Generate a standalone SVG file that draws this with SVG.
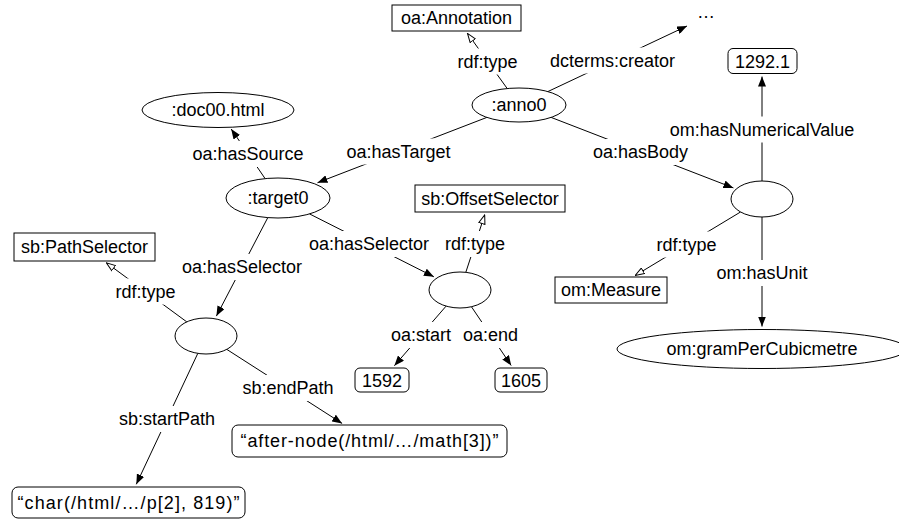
<svg xmlns="http://www.w3.org/2000/svg" width="899" height="521" viewBox="0 0 899 521">
<style>
text{font-family:"Liberation Sans",Arial,sans-serif;font-size:18px;fill:#000;text-anchor:middle}
.n{fill:#fff;stroke:#000;stroke-width:1}
.e{fill:none;stroke:#000;stroke-width:1}
.lb{fill:#fff;stroke:none}
</style>
<defs>
<marker id="arr" viewBox="0 0 10 8" refX="10" refY="4" markerWidth="10" markerHeight="8" orient="auto" markerUnits="userSpaceOnUse"><path d="M0,0 L10,4 L0,8 z" fill="#000"/></marker>
<marker id="open" viewBox="0 0 10 8" refX="9.5" refY="4" markerWidth="10" markerHeight="8" orient="auto" markerUnits="userSpaceOnUse"><path d="M0.5,0.8 L9.5,4 L0.5,7.2 z" fill="#fff" stroke="#000" stroke-width="1"/></marker>
</defs>
<rect width="899" height="521" fill="#fff"/>
<g id="connectors">
<line class="e" x1="507.2" y1="88.5" x2="467.5" y2="33.4" marker-end="url(#open)"/>
<line class="e" x1="547.8" y1="91.6" x2="687" y2="26" marker-end="url(#arr)"/>
<line class="e" x1="486.9" y1="117.4" x2="317.5" y2="182.7" marker-end="url(#arr)"/>
<line class="e" x1="551.1" y1="117.4" x2="733.4" y2="187.9" marker-end="url(#arr)"/>
<line class="e" x1="762" y1="181" x2="762" y2="76.5" marker-end="url(#arr)"/>
<line class="e" x1="762" y1="217" x2="762" y2="326.5" marker-end="url(#arr)"/>
<line class="e" x1="740.5" y1="212" x2="635.2" y2="275.5" marker-end="url(#open)"/>
<line class="e" x1="265.1" y1="178.6" x2="231.2" y2="129" marker-end="url(#arr)"/>
<line class="e" x1="309.5" y1="213.9" x2="433.9" y2="276.8" marker-end="url(#arr)"/>
<line class="e" x1="465.8" y1="272.3" x2="484.7" y2="214.9" marker-end="url(#open)"/>
<line class="e" x1="446.1" y1="306.1" x2="394.4" y2="365.7" marker-end="url(#arr)"/>
<line class="e" x1="471.4" y1="306.7" x2="511.2" y2="365.5" marker-end="url(#arr)"/>
<line class="e" x1="267.8" y1="217.6" x2="216.4" y2="316.1" marker-end="url(#arr)"/>
<line class="e" x1="186.8" y1="321.9" x2="106.4" y2="262.8" marker-end="url(#open)"/>
<line class="e" x1="197.8" y1="353.4" x2="136.3" y2="484.3" marker-end="url(#arr)"/>
<line class="e" x1="226.8" y1="349.4" x2="342.1" y2="423.4" marker-end="url(#arr)"/>
<g id="edge-labels">
<rect class="lb" x="453.5" y="48.5" width="68" height="26"/><text x="487.5" y="67.5">rdf:type</text>
<rect class="lb" x="546" y="47.5" width="133" height="26"/><text x="612.5" y="66.5">dcterms:creator</text>
<rect class="lb" x="342" y="138.5" width="113" height="26"/><text x="398.5" y="157.5">oa:hasTarget</text>
<rect class="lb" x="589" y="139" width="103" height="26"/><text x="640.5" y="158">oa:hasBody</text>
<rect class="lb" x="665" y="116.5" width="194" height="26"/><text x="762" y="135.5">om:hasNumericalValue</text>
<rect class="lb" x="712.5" y="260" width="99" height="26"/><text x="762" y="279">om:hasUnit</text>
<rect class="lb" x="652.5" y="231.5" width="68" height="26"/><text x="686.5" y="250.5">rdf:type</text>
<rect class="lb" x="188.5" y="141" width="119" height="26"/><text x="248" y="160">oa:hasSource</text>
<rect class="lb" x="300.5" y="231" width="137" height="26"/><text x="369" y="250">oa:hasSelector</text>
<rect class="lb" x="441" y="231" width="68" height="26"/><text x="475" y="250">rdf:type</text>
<rect class="lb" x="387" y="322" width="68" height="26"/><text x="421" y="341">oa:start</text>
<rect class="lb" x="459" y="322" width="63" height="26"/><text x="490.5" y="341">oa:end</text>
<rect class="lb" x="173.5" y="254" width="137" height="26"/><text x="242" y="273">oa:hasSelector</text>
<rect class="lb" x="111.5" y="278.5" width="68" height="26"/><text x="145.5" y="297.5">rdf:type</text>
<rect class="lb" x="115" y="406" width="104" height="26"/><text x="167" y="425">sb:startPath</text>
<rect class="lb" x="238.5" y="375" width="99" height="26"/><text x="288" y="394">sb:endPath</text>
</g>
</g>
<g id="n-annotation-class"><rect class="n" x="392" y="5" width="129" height="26"/><text x="456.5" y="24">oa:Annotation</text></g>
<g id="n-creator"><text x="706" y="18">…</text></g>
<g id="n-anno0"><ellipse class="n" cx="519" cy="105" rx="47" ry="17"/><text x="519" y="111">:anno0</text></g>
<g id="n-value"><rect class="n" x="728" y="48.5" width="69" height="25" rx="5"/><text x="762.5" y="67.5">1292.1</text></g>
<g id="n-doc00"><ellipse class="n" cx="218" cy="110" rx="76" ry="17.5"/><text x="218" y="116">:doc00.html</text></g>
<g id="n-target0"><ellipse class="n" cx="278" cy="198" rx="52" ry="20"/><text x="278" y="204">:target0</text></g>
<g id="n-offset-class"><rect class="n" x="415" y="185" width="150" height="27"/><text x="490" y="204.5">sb:OffsetSelector</text></g>
<g id="n-measure"><ellipse class="n" cx="762" cy="199" rx="31" ry="18"/></g>
<g id="n-path-class"><rect class="n" x="14" y="233" width="141" height="28"/><text x="84.5" y="253">sb:PathSelector</text></g>
<g id="n-offset"><ellipse class="n" cx="460" cy="290" rx="31" ry="18"/></g>
<g id="n-measure-class"><rect class="n" x="555" y="277" width="112" height="26"/><text x="611" y="296">om:Measure</text></g>
<g id="n-path"><ellipse class="n" cx="206" cy="336" rx="31" ry="18"/></g>
<g id="n-unit"><ellipse class="n" cx="762" cy="349" rx="145" ry="19.5"/><text x="762" y="355">om:gramPerCubicmetre</text></g>
<g id="n-start"><rect class="n" x="355" y="368" width="54" height="24" rx="5"/><text x="382" y="386.5">1592</text></g>
<g id="n-end"><rect class="n" x="495" y="368" width="52" height="24" rx="5"/><text x="521" y="386.5">1605</text></g>
<g id="n-endpath"><rect class="n" x="232" y="425" width="275" height="32" rx="6"/><text x="369.5" y="447" textLength="258" lengthAdjust="spacing">“after-node(/html/…/math[3])”</text></g>
<g id="n-startpath"><rect class="n" x="12" y="487" width="233" height="31" rx="6"/><text x="128.5" y="508.5" textLength="222" lengthAdjust="spacing">“char(/html/…/p[2], 819)”</text></g>
</svg>
